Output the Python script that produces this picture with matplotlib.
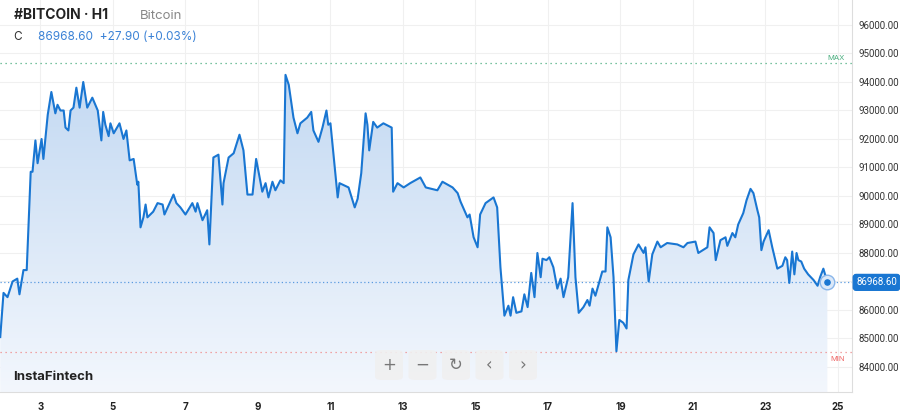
"""BTC H1 area chart in the InstaFintech widget style."""
import matplotlib
matplotlib.use("Agg")
import matplotlib.pyplot as plt
import numpy as np
from matplotlib.patches import FancyBboxPatch

# elapsed time in days of month, price
days = [1.89, 1.98, 2.09, 2.23, 2.36, 2.42, 2.53, 2.62, 2.73, 2.78, 2.86, 2.92, 3.03, 3.08, 3.20, 3.30,
        3.41, 3.47, 3.55, 3.64, 3.69, 3.77, 3.83, 3.91, 3.99, 4.08, 4.18, 4.29, 4.43, 4.58, 4.68, 4.73,
        4.79, 4.88, 4.93, 5.02, 5.18, 5.29, 5.37, 5.46, 5.57, 5.67, 5.70, 5.76, 5.84, 5.90, 5.95, 6.11,
        6.23, 6.37, 6.42, 6.51, 6.67, 6.75, 6.86, 7.00, 7.19, 7.28, 7.33, 7.47, 7.60, 7.66, 7.77, 7.91,
        8.02, 8.05, 8.19, 8.33, 8.49, 8.60, 8.71, 8.85, 8.95, 9.12, 9.21, 9.29, 9.40, 9.48, 9.62, 9.71,
        9.76, 9.85, 9.98, 10.09, 10.17, 10.36, 10.47, 10.53, 10.67, 10.78, 10.89, 10.94, 11.00, 11.20,
        11.25, 11.50, 11.67, 11.75, 11.85, 11.97, 12.02, 12.07, 12.18, 12.29, 12.46, 12.69, 12.73, 12.85,
        13.02, 13.20, 13.48, 13.63, 13.95, 14.09, 14.37, 14.51, 14.59, 14.78, 14.84, 14.95, 15.06, 15.13,
        15.28, 15.50, 15.60, 15.69, 15.80, 15.91, 15.97, 16.04, 16.13, 16.27, 16.35, 16.44, 16.54, 16.63,
        16.71, 16.80, 16.85, 16.96, 17.04, 17.15, 17.26, 17.35, 17.43, 17.56, 17.68, 17.76, 17.85, 17.98,
        18.09, 18.15, 18.23, 18.31, 18.50, 18.59, 18.64, 18.73, 18.81, 18.89, 18.97, 19.08, 19.17, 19.22,
        19.36, 19.50, 19.64, 19.69, 19.78, 19.88, 20.02, 20.11, 20.29, 20.57, 20.74, 20.85, 21.07, 21.15,
        21.40, 21.46, 21.57, 21.63, 21.76, 21.90, 21.95, 22.09, 22.17, 22.25, 22.39, 22.48, 22.59, 22.67,
        22.78, 22.83, 22.89, 22.95, 23.09, 23.19, 23.33, 23.47, 23.55, 23.60, 23.66, 23.74, 23.80, 23.86,
        23.91, 23.99, 24.07, 24.18, 24.33, 24.44, 24.51, 24.60, 24.71]
prices = [85050, 86600, 86450, 87000, 87100, 86550, 87400, 87400, 90850, 90850, 91950, 91150, 92000, 91300,
          92850, 93650, 92900, 93200, 93000, 93000, 92400, 92300, 93000, 93100, 93800, 93100, 94000, 93100,
          93450, 93000, 91950, 92950, 92500, 92100, 92550, 92200, 92550, 92000, 92300, 91250, 91300, 90400,
          90500, 88900, 89250, 89700, 89250, 89450, 89750, 89700, 89350, 89600, 90050, 89750, 89600, 89350,
          89750, 89450, 89750, 89150, 89500, 88300, 91350, 91450, 89700, 90450, 91350, 91500, 92150, 91600,
          90050, 90050, 91300, 90150, 90450, 89950, 90500, 90200, 90550, 90450, 94250, 93900, 92750, 92200,
          92550, 92750, 92950, 92300, 91900, 92400, 93000, 92500, 92550, 89950, 90450, 90300, 89600, 89900,
          90800, 92900, 92500, 91600, 92600, 92400, 92550, 92400, 90150, 90450, 90300, 90450, 90650, 90300,
          90200, 90500, 90300, 90100, 89800, 89250, 89350, 88550, 88200, 89350, 89750, 89950, 89600, 87500,
          85800, 86150, 85800, 86450, 85900, 85950, 86550, 86100, 87300, 86450, 88000, 87150, 87800, 87750,
          87850, 87500, 86750, 87100, 86450, 87150, 89750, 87150, 85900, 86100, 86350, 86150, 86750, 86500,
          87350, 87350, 88900, 88550, 87150, 84550, 85650, 85550, 85350, 87050, 87950, 88300, 88000, 88200,
          87000, 87950, 88400, 88200, 88350, 88300, 88200, 88350, 88400, 88000, 88200, 88900, 88700, 87750,
          88450, 88550, 88250, 88700, 88550, 89000, 89400, 89850, 90250, 90100, 89500, 89250, 88100, 88400,
          88800, 88200, 87450, 87550, 87850, 87750, 86950, 88050, 87250, 88000, 87750, 87700, 87450, 87250,
          87050, 86850, 87150, 87450, 86968.6]
last_price = 86968.60
max_price = 94650
min_price = 84530
price_ticks = list(range(84000, 96001, 1000))
day_ticks = list(range(3, 26, 2))

BLUE = "#1976d2"
plt.rcParams["font.family"] = ["Inter", "DejaVu Sans"]
NARROW = ["Roboto", "DejaVu Sans"]

fig = plt.figure(figsize=(9, 4.2), dpi=100)
ax = fig.add_axes([0, 28 / 420, 852 / 900, 1 - 28 / 420])
x0, x1 = 1.883, 25.39
y0, y1 = 83122, 96877
ax.set_xlim(x0, x1)
ax.set_ylim(y0, y1)

# grid
for p in price_ticks:
    ax.axhline(p, color="#f0f0f0", lw=0.8, zorder=0)
for d in day_ticks:
    ax.axvline(d, color="#f0f0f0", lw=0.8, zorder=0)

# gradient fill under the line
poly = ax.fill_between(days, prices, y0, color="none")
grad = np.linspace(0, 1, 256).reshape(-1, 1)
img = ax.imshow(grad, extent=[x0, x1, y0, 94300], aspect="auto", origin="lower",
                cmap=matplotlib.colors.LinearSegmentedColormap.from_list("g", ["#f3f7fd", "#c3d9f2"]),
                zorder=1)
img.set_clip_path(poly.get_paths()[0], transform=ax.transData)

ax.plot(days, prices, color=BLUE, lw=1.5, zorder=3)

ax.axhline(last_price, color="#5b9be0", lw=0.9, ls=(0, (1, 2)), zorder=2)
ax.axhline(max_price, color="#4caf80", lw=0.9, ls=(0, (1, 3)), zorder=2)
ax.axhline(min_price, color="#ef8a8a", lw=0.9, ls=(0, (1, 3)), zorder=2)
ax.text(x1 - 0.2, max_price + 80, "MAX", color="#4caf80", fontsize=5.5, ha="right", va="bottom")
ax.text(x1 - 0.2, min_price - 150, "MIN", color="#ef6b6b", fontsize=5.5, ha="right", va="top")

ax.scatter([days[-1]], [prices[-1]], s=110, facecolor="#dbe8f8", edgecolor="#8ab6ea", lw=1, zorder=4)
ax.scatter([days[-1]], [prices[-1]], s=14, color=BLUE, zorder=5)

for s in ["top", "left"]:
    ax.spines[s].set_visible(False)
ax.spines["right"].set_color("#dddddd")
ax.spines["bottom"].set_color("#dddddd")
ax.yaxis.tick_right()
ax.set_yticks(price_ticks)
# the 87000 label sits under the last-price tag, as in the widget
ax.set_yticklabels(["" if p == 87000 else f"{p:.2f}" for p in price_ticks],
                   fontsize=7, color="#333333", family=NARROW)
ax.set_xticks(day_ticks)
ax.set_xticklabels([str(d) for d in day_ticks], fontsize=7, fontweight="bold", color="#222222")
ax.tick_params(length=0, pad=7)
ax.tick_params(axis="y", pad=5)

# last price tag
ax.annotate(f"{last_price:.2f}", xy=(1.0, last_price), xycoords=("axes fraction", "data"),
            xytext=(3, 0), textcoords="offset points", fontsize=7, color="white",
            ha="left", va="center", family=NARROW,
            bbox=dict(boxstyle="round,pad=0.3", facecolor=BLUE, edgecolor=BLUE))

# header
fig.text(0.015, 0.955, "#BITCOIN · H1", fontsize=10, fontweight="bold", color="#222222")
fig.text(0.155, 0.955, "Bitcoin", fontsize=9.5, color="#888888")
fig.text(0.015, 0.905, "C", fontsize=8.5, color="#333333")
fig.text(0.042, 0.905, "86968.60  +27.90 (+0.03%)", fontsize=8.5, color="#3b82d6")
fig.text(0.015, 0.095, "InstaFintech", fontsize=9.5, fontweight="bold", color="#222222")

# navigation buttons
symbols = ["+", "−", "↻", "‹", "›"]
for i, sym in enumerate(symbols):
    bx = (375 + i * 33.5) / 900
    fig.patches.append(FancyBboxPatch((bx, 40 / 420), 28 / 900, 30 / 420,
                                      boxstyle="round,pad=0,rounding_size=0.008",
                                      transform=fig.transFigure, facecolor="#f0f0f0",
                                      edgecolor="none", alpha=0.9, zorder=6))
    fig.text(bx + 14 / 900, 55 / 420, sym, fontsize=12, color="#777777",
             ha="center", va="center", zorder=7, family=["DejaVu Sans"])

fig.savefig("out.png", dpi=100)
